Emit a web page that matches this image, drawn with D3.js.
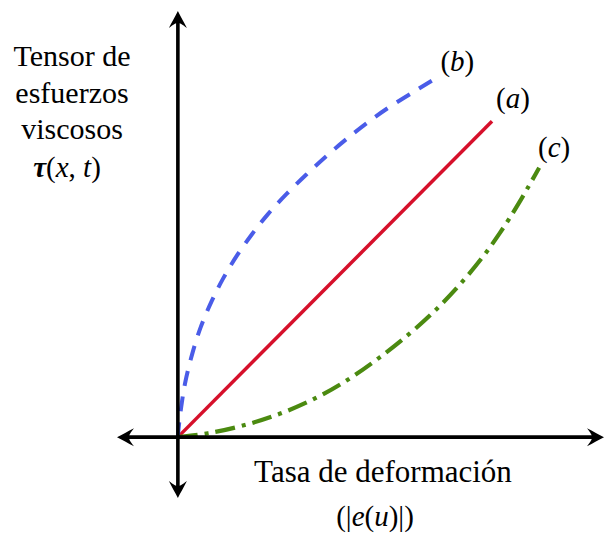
<!DOCTYPE html>
<html>
<head>
<meta charset="utf-8">
<script src="https://cdn.jsdelivr.net/npm/d3@7"></script>
<style>
  html, body { margin: 0; padding: 0; background: #fff; }
  svg { display: block; }
</style>
</head>
<body>
<svg id="chart" width="605" height="534"></svg>
<script>
// ---- data (in chart units) ----
const axisRange = [-0.2, 1.4];
const yLabelLines = ["Tensor de", "esfuerzos", "viscosos"];
const xLabelText = "Tasa de deformación";

const aX = [0, 1.032];
const aY = [0, 1.038];

const bX = [0, 0.003, 0.013, 0.023, 0.046, 0.072, 0.111, 0.148, 0.193, 0.243, 0.292, 0.357, 0.423, 0.489, 0.554, 0.62, 0.695, 0.784, 0.836];
const bY = [0, 0.040, 0.115, 0.180, 0.272, 0.358, 0.449, 0.522, 0.597, 0.667, 0.730, 0.800, 0.864, 0.925, 0.980, 1.032, 1.086, 1.140, 1.172];

const gX = [0, 0.095, 0.213, 0.334, 0.456, 0.564, 0.662, 0.761, 0.849, 0.925, 1.0, 1.056, 1.121, 1.187];
const gY = [0, 0.010, 0.036, 0.074, 0.127, 0.190, 0.260, 0.338, 0.418, 0.498, 0.588, 0.666, 0.768, 0.885];

// ---- setup ----
const FONT = "'Liberation Serif', 'Times New Roman', Times, serif";
const svg = d3.select("#chart");
const x = d3.scaleLinear().domain(axisRange).range([117, 604]);
const y = d3.scaleLinear().domain(axisRange).range([498, 11]);

const series = [
  { name: "a", xs: aX, ys: aY, color: "#d6102b", width: 3.5, dash: null, off: [21, -13] },
  { name: "b", xs: bX, ys: bY, color: "#4a5ce8", width: 4, dash: "15,11", off: [25, -9] },
  { name: "c", xs: gX, ys: gY, color: "#4b8a10", width: 4.2, dash: "20,7,4,7", off: [15, -11] }
];

const line = d3.line().x(d => x(d[0])).y(d => y(d[1])).curve(d3.curveBasis);

series.forEach(s => {
  const pts = s.xs.map((v, i) => [v, s.ys[i]]);
  svg.append("path")
    .attr("d", line(pts))
    .attr("fill", "none")
    .attr("stroke", s.color)
    .attr("stroke-width", s.width)
    .attr("stroke-dasharray", s.dash);
});

// ---- axes ----
const x0 = x(0), y0 = y(0);
const headLen = 9;
const ax = svg.append("g");
ax.append("line")
  .attr("x1", x(axisRange[0]) + headLen).attr("x2", x(axisRange[1]) - headLen)
  .attr("y1", y0).attr("y2", y0)
  .attr("stroke", "#000").attr("stroke-width", 3.6);
ax.append("line")
  .attr("x1", x0).attr("x2", x0)
  .attr("y1", y(axisRange[0]) - headLen).attr("y2", y(axisRange[1]) + headLen)
  .attr("stroke", "#000").attr("stroke-width", 3.6);

const headPath = "M0,0 C-5,-2.5 -11,-6 -17,-9 C-13,-4 -12,-2 -12,0 C-12,2 -13,4 -17,9 C-11,6 -5,2.5 0,0 Z";
const tips = [
  [x(axisRange[1]), y0, 0],
  [x(axisRange[0]), y0, 180],
  [x0, y(axisRange[1]), -90],
  [x0, y(axisRange[0]), 90]
];
tips.forEach(t => {
  ax.append("path")
    .attr("d", headPath)
    .attr("transform", `translate(${t[0]},${t[1]}) rotate(${t[2]})`)
    .attr("fill", "#000");
});

// ---- series labels ----
series.forEach(s => {
  const n = s.xs.length - 1;
  const t = svg.append("text")
    .attr("x", x(s.xs[n]) + s.off[0])
    .attr("y", y(s.ys[n]) + s.off[1])
    .attr("text-anchor", "middle")
    .attr("font-family", FONT)
    .attr("font-size", 29);
  t.append("tspan").text("(");
  t.append("tspan").attr("font-style", "italic").text(s.name);
  t.append("tspan").text(")");
});

// ---- y label ----
const yl = svg.append("g");
yLabelLines.forEach((l, i) => {
  yl.append("text")
    .attr("x", 72).attr("y", 66 + i * 36.5)
    .attr("text-anchor", "middle")
    .attr("font-family", FONT)
    .attr("font-size", 30)
    .text(l);
});
const tau = yl.append("text")
  .attr("x", 67).attr("y", 177)
  .attr("text-anchor", "middle")
  .attr("font-family", FONT)
  .attr("font-size", 29);
tau.append("tspan").attr("font-weight", "bold").attr("font-style", "italic").text("τ");
tau.append("tspan").text("(");
tau.append("tspan").attr("font-style", "italic").text("x");
tau.append("tspan").text(", ");
tau.append("tspan").attr("font-style", "italic").text("t");
tau.append("tspan").text(")");

// ---- x label ----
svg.append("text")
  .attr("x", 383).attr("y", 482)
  .attr("text-anchor", "middle")
  .attr("font-family", FONT)
  .attr("font-size", 31)
  .text(xLabelText);
const eu = svg.append("text")
  .attr("x", 375).attr("y", 526)
  .attr("text-anchor", "middle")
  .attr("font-family", FONT)
  .attr("font-size", 29);
eu.append("tspan").text("(|");
eu.append("tspan").attr("font-style", "italic").text("e");
eu.append("tspan").text("(");
eu.append("tspan").attr("font-style", "italic").text("u");
eu.append("tspan").text(")|)");
</script>
</body>
</html>
